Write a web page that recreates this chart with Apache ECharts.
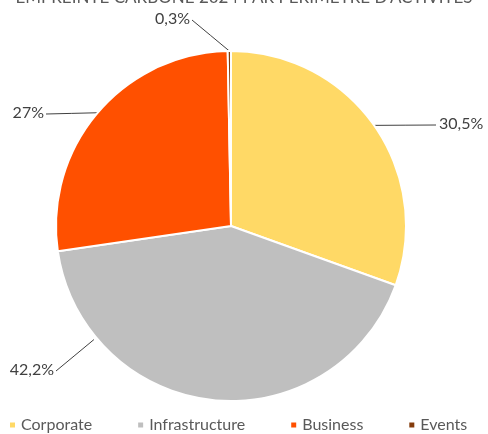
<!DOCTYPE html>
<html>
<head>
<meta charset="utf-8">
<script src="https://cdn.jsdelivr.net/npm/echarts@6/dist/echarts.min.js"></script>
<style>html,body{margin:0;padding:0;background:#fff;}#c{width:488px;height:434px;}</style>
</head>
<body>
<div id="c"></div>
<script>
const categories = ["Corporate", "Infrastructure", "Business", "Events"];
const values = [30.5, 42.2, 27, 0.3];
const labels = ["30,5%", "42,2%", "27%", "0,3%"];
const colors = ["#FFD966", "#BFBFBF", "#FF5000", "#843C0C"];
const titleText = "EMPREINTE CARBONE 2024 PAR PÉRIMÈTRE D'ACTIVITÉS";

const CENTER = [231, 226];
const RADIUS = 175;
// label placement: x,y anchor, alignment, and whether the leader line aims at the pie toward the label
const labelPos = [
  {x: 439, y: 124, align: 'left', toward: false},
  {x: 54, y: 370, align: 'right', toward: true},
  {x: 44, y: 113, align: 'right', toward: false},
  {x: 190, y: 19, align: 'right', toward: false}
];

const chart = echarts.init(document.getElementById('c'));
chart.setOption({
  animation: false,
  title: {
    text: titleText,
    left: 'center',
    top: -16,
    textStyle: {fontFamily: 'Lato', fontSize: 17, fontWeight: 'normal', color: '#595959'}
  },
  legend: {
    bottom: -4,
    left: 3,
    icon: 'rect',
    itemWidth: 7,
    itemHeight: 7,
    itemGap: 44,
    textStyle: {fontFamily: 'Lato', fontSize: 16, color: '#595959'},
    data: categories
  },
  series: [{
    type: 'pie',
    center: CENTER,
    radius: RADIUS,
    startAngle: 90,
    clockwise: true,
    itemStyle: {borderColor: '#fff', borderWidth: 2},
    label: {
      show: true,
      position: 'outside',
      fontFamily: 'Lato',
      fontSize: 16,
      color: '#404040',
      formatter: p => labels[p.dataIndex]
    },
    labelLine: {show: true, length: 5, length2: 40, lineStyle: {color: '#404040', width: 1}},
    labelLayout: function (params) {
      const lp = labelPos[params.dataIndex];
      const endX = lp.align === 'left' ? lp.x - 3 : lp.x + 2;
      const endY = lp.y + 1;
      let start;
      if (lp.toward || !params.labelLinePoints) {
        const dx = endX - CENTER[0], dy = endY - CENTER[1];
        const d = Math.sqrt(dx * dx + dy * dy);
        const r = RADIUS + 3;
        start = [CENTER[0] + dx / d * r, CENTER[1] + dy / d * r];
      } else {
        start = params.labelLinePoints[0];
      }
      return {
        x: lp.x, y: lp.y, align: lp.align, verticalAlign: 'middle',
        labelLinePoints: [start, [(start[0] + endX) / 2, (start[1] + endY) / 2], [endX, endY]]
      };
    },
    data: categories.map((c, i) => ({name: c, value: values[i], itemStyle: {color: colors[i]}}))
  }]
});
</script>
</body>
</html>
